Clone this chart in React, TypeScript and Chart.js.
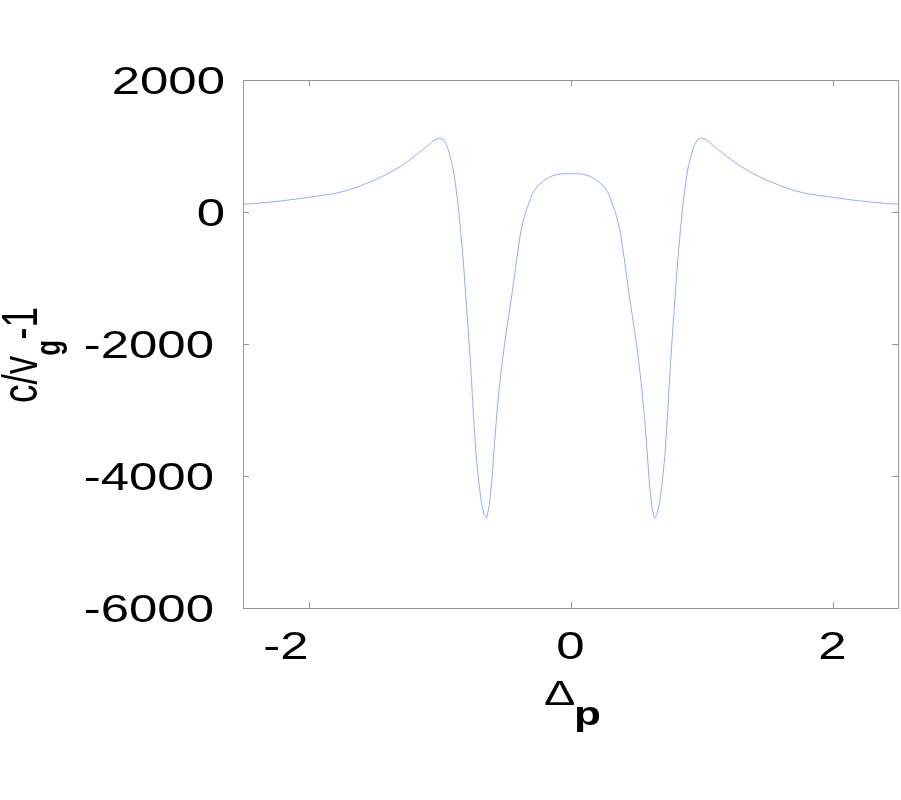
import React, { useEffect, useRef } from "react";
import { Chart, registerables } from "chart.js";

Chart.register(...registerables);

// Detuning Δp (x) and group index c/v_g - 1 (y)
const DELTA_P = [
  -2.5, -2.4, -2.3, -2.2, -2.1, -2.0, -1.9, -1.8, -1.7, -1.6, -1.5, -1.4, -1.3, -1.2, -1.1,
  -1.04, -1.0, -0.97, -0.94, -0.92, -0.9, -0.88, -0.86, -0.84, -0.82, -0.8, -0.78, -0.76,
  -0.74, -0.72, -0.7, -0.68, -0.66, -0.64, -0.62, -0.6, -0.58, -0.56, -0.54, -0.52, -0.5,
  -0.47, -0.44, -0.41, -0.38, -0.35, -0.32, -0.29, -0.25, -0.2, -0.15, -0.1, -0.05, 0,
  0.05, 0.1, 0.15, 0.2, 0.25, 0.29, 0.32, 0.35, 0.38, 0.41, 0.44, 0.47, 0.5, 0.52, 0.54,
  0.56, 0.58, 0.6, 0.62, 0.64, 0.66, 0.68, 0.7, 0.72, 0.74, 0.76, 0.78, 0.8, 0.82, 0.84,
  0.86, 0.88, 0.9, 0.92, 0.94, 0.97, 1.0, 1.04, 1.1, 1.2, 1.3, 1.4, 1.5, 1.6, 1.7, 1.8,
  1.9, 2.0, 2.1, 2.2, 2.3, 2.4, 2.5,
];
const GROUP_INDEX = [
  118, 130, 150, 170, 195, 222, 250, 280, 330, 400, 480, 575, 690, 830, 990,
  1090, 1120, 1100, 990, 850, 700, 450, 150, -250, -700, -1250, -1800, -2400,
  -3100, -3700, -4100, -4400, -4580, -4640, -4450, -4050, -3500, -3000, -2600, -2250, -1950,
  -1550, -1150, -700, -300, -50, 120, 280, 400, 480, 540, 570, 580, 580,
  580, 570, 540, 480, 400, 280, 120, -50, -300, -700, -1150, -1550, -1950, -2250, -2600,
  -3000, -3500, -4050, -4450, -4640, -4580, -4400, -4100, -3700, -3100, -2400, -1800, -1250, -700, -250,
  150, 450, 700, 850, 990, 1100, 1120, 1090, 990, 830, 690, 575, 480, 400, 330, 280,
  250, 222, 195, 170, 150, 130, 118,
];

const X_TICKS = [-2, 0, 2];
const Y_TICKS = [2000, 0, -2000, -4000, -6000];
const X_RANGE = [-2.5, 2.5];
const Y_RANGE = [-6000, 2000];

const FONT_FAMILY = '"Liberation Sans", Arial, Helvetica, sans-serif';
const SX = 1.34; // horizontal stretch of the reference's text
const FRAME = "rgb(150,150,150)";
const LINE = "rgb(150,170,255)";
const W = 901;
const H = 800;

function stretchedText(
  ctx: CanvasRenderingContext2D,
  text: string,
  x: number,
  y: number,
  align: CanvasTextAlign
) {
  ctx.save();
  ctx.translate(x, y);
  ctx.scale(SX, 1);
  ctx.textAlign = align;
  ctx.textBaseline = "alphabetic";
  ctx.fillText(text, 0, 0);
  ctx.restore();
}

const framePlugin = {
  id: "framePlugin",
  afterDatasetsDraw(chart: any) {
    const ctx: CanvasRenderingContext2D = chart.ctx;
    const { left, right, top, bottom } = chart.chartArea;
    const xs = chart.scales.x;
    const ys = chart.scales.y;
    ctx.save();
    // frame
    ctx.strokeStyle = FRAME;
    ctx.lineWidth = 1;
    ctx.strokeRect(Math.round(left) + 0.5, Math.round(top) + 0.5, Math.round(right - left), Math.round(bottom - top));
    // inward ticks on all sides
    const TL = 6;
    ctx.beginPath();
    X_TICKS.forEach((v) => {
      const px = Math.round(xs.getPixelForValue(v)) + 0.5;
      ctx.moveTo(px, bottom);
      ctx.lineTo(px, bottom - TL);
      ctx.moveTo(px, top);
      ctx.lineTo(px, top + TL);
    });
    Y_TICKS.forEach((v) => {
      const py = Math.round(ys.getPixelForValue(v)) + 0.5;
      ctx.moveTo(left, py);
      ctx.lineTo(left + TL, py);
      ctx.moveTo(right, py);
      ctx.lineTo(right - TL, py);
    });
    ctx.stroke();

    // tick labels
    ctx.fillStyle = "#000";
    ctx.font = `38px ${FONT_FAMILY}`;
    Y_TICKS.forEach((v) => {
      const py = ys.getPixelForValue(v);
      const xr = v < 0 ? left - 29 : left - 18;
      stretchedText(ctx, String(v), xr, py + 14, "right");
    });
    X_TICKS.forEach((v) => {
      const px = xs.getPixelForValue(v);
      stretchedText(ctx, String(v), px, bottom + 51, v < 0 ? "right" : "center");
    });

    // x title: Δ with subscript p
    ctx.font = `35px ${FONT_FAMILY}`;
    stretchedText(ctx, "Δ", 544, bottom + 97, "left");
    ctx.font = `bold 33px ${FONT_FAMILY}`;
    stretchedText(ctx, "p", 574, bottom + 117, "left");

    // y title: c/v_g -1, rotated
    ctx.save();
    ctx.translate(37, 403);
    ctx.scale(SX, 1);
    ctx.rotate(-Math.PI / 2);
    ctx.textAlign = "left";
    ctx.textBaseline = "alphabetic";
    ctx.font = `37px ${FONT_FAMILY}`;
    const main = "c/v";
    ctx.fillText(main, 0, 0);
    const w1 = ctx.measureText(main).width;
    ctx.font = `bold 26px ${FONT_FAMILY}`;
    ctx.fillText("g", w1, 17);
    const wg = ctx.measureText("g").width;
    ctx.font = `37px ${FONT_FAMILY}`;
    ctx.fillText("-1", w1 + wg, 0);
    ctx.restore();

    ctx.restore();
  },
};

export default function App() {
  const canvasRef = useRef<HTMLCanvasElement | null>(null);

  useEffect(() => {
    if (!canvasRef.current) return;
    const points = DELTA_P.map((x, i) => ({ x, y: GROUP_INDEX[i] }));
    const chart = new Chart(canvasRef.current, {
      type: "line",
      data: {
        datasets: [
          {
            data: points,
            borderColor: LINE,
            borderWidth: 1,
            pointRadius: 0,
            tension: 0,
            fill: false,
          },
        ],
      },
      options: {
        animation: false,
        responsive: false,
        maintainAspectRatio: false,
        devicePixelRatio: 1,
        layout: { padding: { left: 243, top: 80, right: 3, bottom: 192 } },
        plugins: { legend: { display: false }, tooltip: { enabled: false } },
        scales: {
          x: { type: "linear", min: X_RANGE[0], max: X_RANGE[1], display: false },
          y: { type: "linear", min: Y_RANGE[0], max: Y_RANGE[1], display: false },
        },
      },
      plugins: [framePlugin],
    });
    return () => chart.destroy();
  }, []);

  return (
    <div style={{ position: "absolute", left: 0, top: 0, width: W, height: H, overflow: "hidden" }}>
      <canvas ref={canvasRef} width={W} height={H} style={{ display: "block", width: W, height: H }} />
    </div>
  );
}
